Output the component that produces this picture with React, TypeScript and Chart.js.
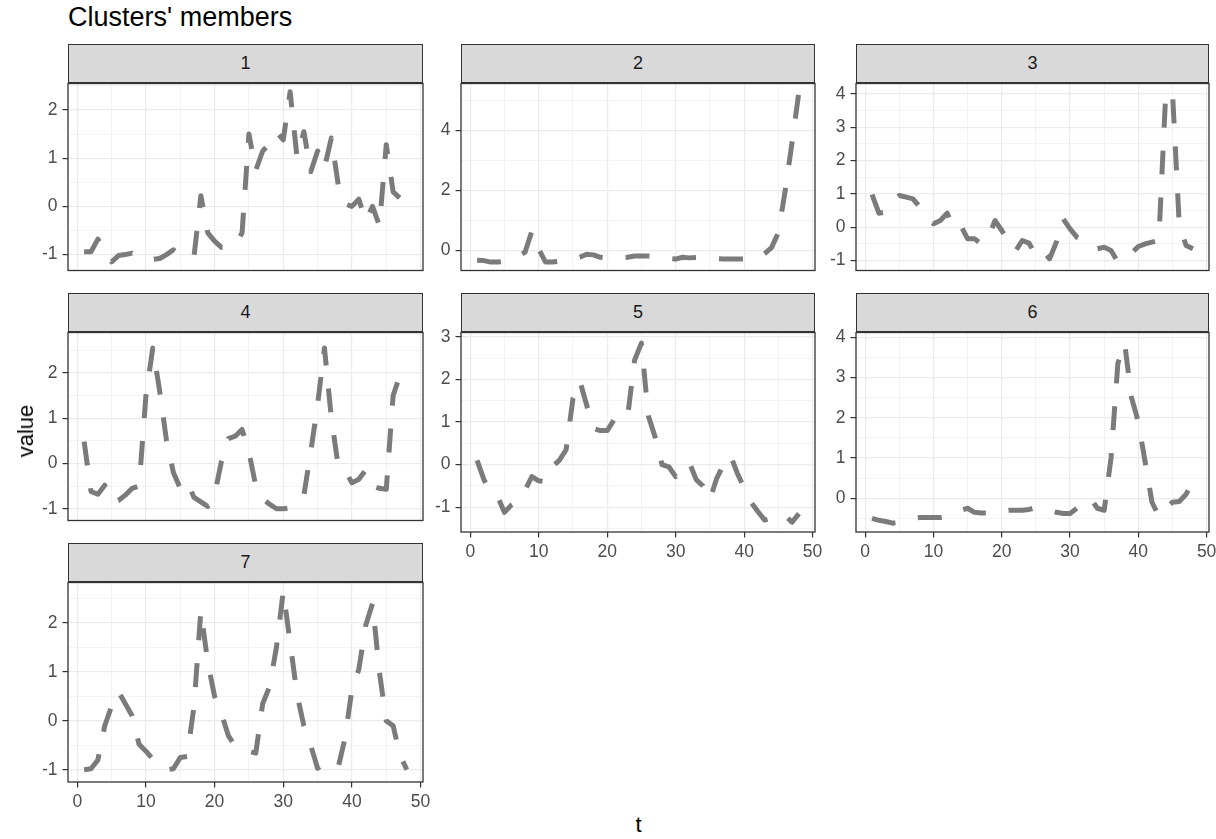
import React, { useEffect, useRef } from 'react';
import { Chart, registerables } from 'chart.js';

Chart.register(...registerables);

// ---------- data ----------
const timeSteps = [1,2,3,4,5,6,7,8,9,10,11,12,13,14,15,16,17,18,19,20,21,22,23,24,25,26,27,28,29,30,31,32,33,34,35,36,37,38,39,40,41,42,43,44,45,46,47,48];
const clusterLabels = ['1', '2', '3', '4', '5', '6', '7'];

const cluster1 = [-0.94,-0.94,-0.68,-0.9,-1.15,-1.02,-1.0,-0.97,-1.05,-1.1,-1.1,-1.08,-1.0,-0.9,-1.03,-1.04,-1.04,0.22,-0.55,-0.72,-0.85,-0.83,-0.8,-0.55,1.5,0.75,1.15,1.3,1.55,1.38,2.38,1.02,1.55,0.72,1.15,0.8,1.42,0.45,0.05,0.0,0.15,-0.3,0.0,-0.4,1.28,0.3,0.17,0.42];
const cluster2 = [-0.32,-0.33,-0.38,-0.38,-0.35,-0.3,-0.2,-0.05,0.65,0.05,-0.38,-0.38,-0.35,-0.3,-0.28,-0.22,-0.12,-0.14,-0.22,-0.25,-0.25,-0.24,-0.22,-0.18,-0.18,-0.18,-0.2,-0.22,-0.26,-0.28,-0.22,-0.24,-0.23,-0.25,-0.25,-0.27,-0.28,-0.28,-0.28,-0.28,-0.28,-0.25,-0.1,0.1,0.6,2.0,3.6,5.28];
const cluster3 = [0.98,0.42,0.45,0.8,0.95,0.9,0.85,0.6,0.25,0.1,0.2,0.42,-0.05,0.05,-0.35,-0.35,-0.5,-0.35,0.2,-0.1,-0.45,-0.72,-0.4,-0.48,-0.85,-0.7,-0.95,-0.45,0.25,-0.05,-0.3,-0.4,-0.45,-0.65,-0.6,-0.7,-1.04,-0.95,-0.78,-0.58,-0.5,-0.45,-0.4,3.95,4.05,0.05,-0.55,-0.65];
const cluster4 = [0.48,-0.62,-0.68,-0.48,-0.85,-0.82,-0.7,-0.55,-0.5,1.5,2.55,1.6,0.5,-0.2,-0.55,-0.4,-0.75,-0.85,-0.95,-0.7,0.05,0.55,0.6,0.75,0.25,-0.5,-0.78,-0.9,-1.0,-1.0,-0.98,-0.8,-0.7,0.25,1.3,2.55,1.0,-0.05,-0.15,-0.43,-0.35,-0.15,-0.5,-0.55,-0.57,1.5,1.95,2.05];
const cluster5 = [0.1,-0.35,-0.65,-0.75,-1.12,-0.95,-0.85,-0.6,-0.28,-0.38,-0.4,-0.05,0.1,0.35,1.55,1.97,1.4,0.85,0.8,0.8,1.05,1.0,1.15,2.45,2.85,1.15,0.65,0.0,-0.05,-0.28,-0.15,0.05,-0.35,-0.5,-0.82,-0.32,0.0,0.22,-0.2,-0.55,-0.88,-1.1,-1.3,-1.25,-1.15,-1.2,-1.35,-1.15];
const cluster6 = [-0.5,-0.55,-0.58,-0.62,-0.6,-0.55,-0.5,-0.48,-0.48,-0.48,-0.48,-0.45,-0.4,-0.3,-0.25,-0.35,-0.37,-0.37,-0.37,-0.33,-0.3,-0.3,-0.3,-0.28,-0.23,-0.28,-0.3,-0.35,-0.38,-0.38,-0.25,-0.12,0.0,-0.25,-0.3,1.0,3.35,3.85,2.5,1.9,0.9,-0.1,-0.45,-0.25,-0.1,-0.08,0.1,0.42];
const cluster7 = [-1.0,-0.98,-0.8,-0.1,0.3,0.6,0.35,0.1,-0.48,-0.62,-0.78,-0.85,-1.0,-0.98,-0.75,-0.73,0.3,2.25,1.2,0.5,0.15,-0.3,-0.52,-0.62,-0.62,-0.66,0.35,0.7,1.5,2.65,1.6,0.55,-0.1,-0.5,-0.97,-0.86,-0.9,-0.95,-0.35,0.65,1.05,1.95,2.4,1.0,0.0,-0.1,-0.7,-1.0];
const clusterSeries = [cluster1, cluster2, cluster3, cluster4, cluster5, cluster6, cluster7];

// ---------- axes ----------
const xMin = -1.35;
const xMax = 50.35;
const xMajorTicks = [0, 10, 20, 30, 40, 50];
const xMinorTicks = [5, 15, 25, 35, 45];
const yMins = [-1.33, -0.66, -1.30, -1.26, -1.58, -0.84, -1.25];
const yMaxs = [2.55, 5.56, 4.31, 2.89, 3.10, 4.12, 2.83];
const yMajorTicks = [[-1, 0, 1, 2], [0, 2, 4], [-1, 0, 1, 2, 3, 4], [-1, 0, 1, 2], [-1, 0, 1, 2, 3], [0, 1, 2, 3, 4], [-1, 0, 1, 2]];
const yMinorTicks = [[-0.5, 0.5, 1.5, 2.5], [1, 3, 5], [-0.5, 0.5, 1.5, 2.5, 3.5], [-0.5, 0.5, 1.5, 2.5], [-1.5, -0.5, 0.5, 1.5, 2.5], [-0.5, 0.5, 1.5, 2.5, 3.5], [-0.5, 0.5, 1.5, 2.5]];

// ---------- layout / style ----------
const FONT = "'Liberation Sans', Arial, Helvetica, sans-serif";
const COLS = [[68, 423], [461, 815], [856, 1209]];
const ROWS = [[44, 82, 282], [293, 331, 532], [543, 581, 782]];
const AXIS_W = 70;
const PAD_T = 14;
const PAD_R = 26;
const XAXIS_H = 40;
const TICK_FONT = 17.5;

const panelBorder = {
  id: 'panelBorder',
  afterDraw(chart: any) {
    const { ctx, chartArea: a } = chart;
    ctx.save();
    ctx.strokeStyle = '#333333';
    ctx.lineWidth = 1.3;
    ctx.strokeRect(a.left, a.top, a.right - a.left, a.bottom - a.top);
    ctx.restore();
  },
};

function Panel({ idx }: { idx: number }) {
  const ref = useRef<HTMLCanvasElement | null>(null);
  const row = Math.floor(idx / 3);
  const col = idx % 3;
  const [l, r] = COLS[col];
  const [st, pt, pb] = ROWS[row];
  const hasX = idx >= 4;
  const w = r - l;
  const h = pb - pt;
  const bottomPad = hasX ? 0 : 4;
  const cw = w + AXIS_W + PAD_R;
  const ch = h + PAD_T + (hasX ? XAXIS_H : 0) + bottomPad;

  useEffect(() => {
    if (!ref.current) return;
    const majorsY = yMajorTicks[idx];
    const allY = [...majorsY, ...yMinorTicks[idx]].sort((a, b) => a - b);
    const allX = [...xMajorTicks, ...xMinorTicks].sort((a, b) => a - b);
    const isMajorX = (v: number) => xMajorTicks.includes(v);
    const isMajorY = (v: number) => majorsY.includes(v);
    const chart = new Chart(ref.current, {
      type: 'line',
      data: {
        datasets: [
          {
            data: timeSteps.map((t, i) => ({ x: t, y: clusterSeries[idx][i] })),
            borderColor: '#7b7b7b',
            borderWidth: 5,
            borderDash: [24, 23],
            borderCapStyle: 'butt',
            borderJoinStyle: 'round',
            pointRadius: 0,
            pointHoverRadius: 0,
            tension: 0,
            fill: false,
          },
        ],
      },
      options: {
        animation: false,
        responsive: false,
        devicePixelRatio: 1,
        events: [],
        layout: { autoPadding: false, padding: { top: PAD_T, right: PAD_R, bottom: bottomPad, left: 0 } },
        plugins: { legend: { display: false }, tooltip: { enabled: false }, title: { display: false } },
        scales: {
          x: {
            type: 'linear',
            min: xMin,
            max: xMax,
            afterBuildTicks: (s: any) => { s.ticks = allX.map((v) => ({ value: v })); },
            afterFit: (s: any) => { s.height = hasX ? XAXIS_H : 0; },
            border: { display: false },
            grid: {
              drawTicks: hasX,
              tickLength: 5.5,
              color: '#EBEBEB',
              lineWidth: (c: any) => (isMajorX(c.tick?.value) ? 1.2 : 0.6),
              tickColor: (c: any) => (isMajorX(c.tick?.value) ? '#333333' : 'rgba(0,0,0,0)'),
              tickWidth: 1.2,
            },
            ticks: {
              display: hasX,
              autoSkip: false,
              maxRotation: 0,
              minRotation: 0,
              padding: 4,
              color: '#4D4D4D',
              font: { family: FONT, size: TICK_FONT },
              callback: (v: any) => (isMajorX(Number(v)) ? String(v) : ''),
            },
          },
          y: {
            type: 'linear',
            min: yMins[idx],
            max: yMaxs[idx],
            afterBuildTicks: (s: any) => { s.ticks = allY.map((v) => ({ value: v })); },
            afterFit: (s: any) => { s.width = AXIS_W; },
            border: { display: false },
            grid: {
              drawTicks: true,
              tickLength: 5.5,
              color: '#EBEBEB',
              lineWidth: (c: any) => (isMajorY(c.tick?.value) ? 1.2 : 0.6),
              tickColor: (c: any) => (isMajorY(c.tick?.value) ? '#333333' : 'rgba(0,0,0,0)'),
              tickWidth: 1.2,
            },
            ticks: {
              autoSkip: false,
              padding: 5,
              color: '#4D4D4D',
              font: { family: FONT, size: TICK_FONT },
              callback: (v: any) => (isMajorY(Number(v)) ? String(v) : ''),
            },
          },
        },
      },
      plugins: [panelBorder],
    } as any);
    return () => chart.destroy();
  }, [idx]);

  return (
    <>
      <div
        style={{
          position: 'absolute',
          left: l,
          top: st,
          width: w,
          height: pt - st + 0.6,
          boxSizing: 'border-box',
          border: '1.3px solid #333333',
          background: '#D9D9D9',
          color: '#1A1A1A',
          fontFamily: FONT,
          fontSize: 18,
          display: 'flex',
          alignItems: 'center',
          justifyContent: 'center',
        }}
      >
        {clusterLabels[idx]}
      </div>
      <canvas
        ref={ref}
        width={cw}
        height={ch}
        style={{ position: 'absolute', left: l - AXIS_W, top: pt - PAD_T, width: cw, height: ch }}
      />
    </>
  );
}

export default function App() {
  return (
    <div style={{ position: 'fixed', left: 0, top: 0, width: 1216, height: 839, background: '#FFFFFF', overflow: 'hidden' }}>
      <div style={{ position: 'absolute', left: 68, top: 4, fontFamily: FONT, fontSize: 27, lineHeight: 1, color: '#000000', whiteSpace: 'nowrap' }}>
        Clusters' members
      </div>
      {clusterLabels.map((_, i) => (
        <Panel key={i} idx={i} />
      ))}
      <div
        style={{
          position: 'absolute',
          left: 26,
          top: 431,
          transform: 'translate(-50%, -50%) rotate(-90deg)',
          fontFamily: FONT,
          fontSize: 22,
          lineHeight: 1,
          color: '#000000',
          whiteSpace: 'nowrap',
        }}
      >
        value
      </div>
      <div
        style={{
          position: 'absolute',
          left: 638.5,
          top: 814,
          transform: 'translateX(-50%)',
          fontFamily: FONT,
          fontSize: 22,
          lineHeight: 1,
          color: '#000000',
        }}
      >
        t
      </div>
    </div>
  );
}
